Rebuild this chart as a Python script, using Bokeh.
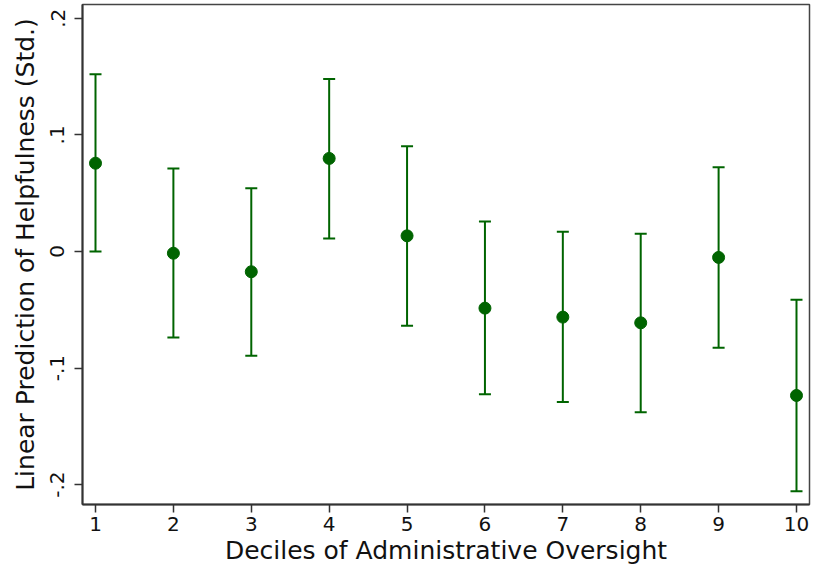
from bokeh.plotting import figure
from bokeh.models import FixedTicker, Whisker, ColumnDataSource, TeeHead, Range1d
from bokeh.embed import file_html
from bokeh.resources import INLINE

deciles = [1, 2, 3, 4, 5, 6, 7, 8, 9, 10]
prediction = [0.0757, -0.0015, -0.0174, 0.0798, 0.0134, -0.0486, -0.0563, -0.0612, -0.0051, -0.1235]
upper_ci = [0.152, 0.0712, 0.0543, 0.148, 0.0903, 0.0257, 0.0169, 0.0151, 0.0723, -0.0414]
lower_ci = [0.0000, -0.0738, -0.0895, 0.0111, -0.0637, -0.1224, -0.1292, -0.1378, -0.0826, -0.2056]
y_ticks = [-0.2, -0.1, 0.0, 0.1, 0.2]
y_tick_labels = ["-.2", "-.1", "0", ".1", ".2"]

FONT = "DejaVu Sans"
GREEN = "#006400"

src = ColumnDataSource(dict(x=deciles, y=prediction, up=upper_ci, lo=lower_ci))

p = figure(width=818, height=569, output_backend="svg", toolbar_location=None,
           x_range=Range1d(0.833, 10.167), y_range=Range1d(-0.217, 0.2118),
           min_border_left=82, min_border_right=9, min_border_top=4, min_border_bottom=65)
p.background_fill_color = "white"
p.border_fill_color = "white"
p.outline_line_color = "#444444"
p.outline_line_width = 1.5
p.xgrid.visible = False
p.ygrid.visible = False

w = Whisker(source=src, base="x", upper="up", lower="lo",
            line_color=GREEN, line_width=2,
            upper_head=TeeHead(size=12, line_color=GREEN, line_width=2),
            lower_head=TeeHead(size=12, line_color=GREEN, line_width=2))
p.add_layout(w)
p.scatter("x", "y", source=src, size=12, color=GREEN)

p.xaxis.ticker = FixedTicker(ticks=deciles)
p.yaxis.ticker = FixedTicker(ticks=y_ticks)
p.yaxis.major_label_overrides = {t: l for t, l in zip(y_ticks, y_tick_labels)}
p.yaxis.major_label_orientation = "vertical"

for ax in (p.xaxis[0], p.yaxis[0]):
    ax.axis_line_color = "#333333"
    ax.axis_line_width = 2
    ax.major_tick_line_color = "#333333"
    ax.major_tick_line_width = 1.5
    ax.major_tick_out = 8
    ax.major_tick_in = 0
    ax.minor_tick_out = 0
    ax.minor_tick_in = 0
    ax.major_label_text_font = FONT
    ax.major_label_text_font_size = "20px"
    ax.major_label_text_color = "#111111"
    ax.axis_label_text_font = FONT
    ax.axis_label_text_font_size = "25px"
    ax.axis_label_text_font_style = "normal"
    ax.axis_label_text_color = "#111111"

p.xaxis.axis_label = "Deciles of Administrative Oversight"
p.yaxis.axis_label = "Linear Prediction of Helpfulness (Std.)"
p.xaxis.major_label_standoff = 4
p.yaxis.major_label_standoff = 10
p.xaxis.axis_label_standoff = 2
p.yaxis.axis_label_standoff = 8

open("out.html", "w").write(file_html(p, INLINE))
